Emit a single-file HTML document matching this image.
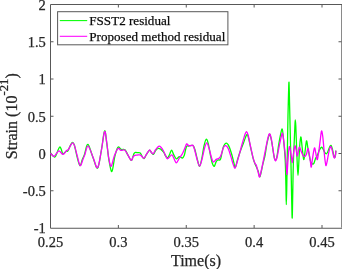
<!DOCTYPE html><html><head><meta charset="utf-8"><style>html,body{margin:0;padding:0;background:#fff}body{width:342px;height:269px;overflow:hidden;font-family:"Liberation Serif",serif}</style></head><body><svg width="342" height="269" viewBox="0 0 342 269" style="display:block;will-change:transform;opacity:0.999">
<rect width="342" height="269" fill="#fff"/>
<g stroke="#585858" stroke-width="1" fill="none">
<path d="M342.0,4.50H50.5V228.25H342.0"/>
<path d="M341.5,5.00V227.75" stroke="#8a8a8a"/>
<path d="M118.37,228.0v-3M118.37,4.5v3"/>
<path d="M186.25,228.0v-3M186.25,4.5v3"/>
<path d="M254.13,228.0v-3M254.13,4.5v3"/>
<path d="M322.00,228.0v-3M322.00,4.5v3"/>
<path d="M50.5,190.75h3M341.5,190.75h-3"/>
<path d="M341.5,153.50h-3"/>
<path d="M50.5,116.25h3M341.5,116.25h-3"/>
<path d="M50.5,79.00h3M341.5,79.00h-3"/>
<path d="M50.5,41.75h3M341.5,41.75h-3"/>
</g>
<path d="M50.50,152.80C51.22,153.52 53.58,157.45 54.80,157.10C56.02,156.75 56.95,152.42 57.80,150.70C58.65,148.98 59.28,146.90 59.90,146.80C60.52,146.70 60.98,148.93 61.50,150.10C62.02,151.27 62.18,153.65 63.00,153.80C63.82,153.95 65.58,151.48 66.40,151.00C67.22,150.52 67.18,151.93 67.90,150.90C68.62,149.87 69.92,146.22 70.70,144.80C71.48,143.38 71.98,142.33 72.60,142.40C73.22,142.47 73.65,142.78 74.40,145.20C75.15,147.62 76.18,153.50 77.10,156.90C78.02,160.30 79.02,165.20 79.90,165.60C80.78,166.00 81.63,161.17 82.40,159.30C83.17,157.43 83.58,156.88 84.50,154.40C85.42,151.92 86.52,143.98 87.90,144.40C89.28,144.82 91.18,152.95 92.80,156.90C94.42,160.85 96.17,169.25 97.60,168.10C99.03,166.95 100.23,156.20 101.40,150.00C102.57,143.80 103.70,131.98 104.60,130.90C105.50,129.82 106.08,138.70 106.80,143.50C107.52,148.30 108.05,155.03 108.90,159.70C109.75,164.37 110.90,172.12 111.90,171.50C112.90,170.88 113.88,160.05 114.90,156.00C115.92,151.95 116.95,148.30 118.00,147.20C119.05,146.10 120.03,148.97 121.20,149.40C122.37,149.83 123.97,149.02 125.00,149.80C126.03,150.58 126.37,152.35 127.40,154.10C128.43,155.85 130.28,159.87 131.20,160.30C132.12,160.73 132.42,157.85 132.90,156.70C133.38,155.55 133.65,154.12 134.10,153.40C134.55,152.68 134.98,152.52 135.60,152.40C136.22,152.28 137.02,152.60 137.80,152.70C138.58,152.80 139.63,152.47 140.30,153.00C140.97,153.53 141.18,154.97 141.80,155.90C142.42,156.83 143.23,158.83 144.00,158.60C144.77,158.37 145.48,155.88 146.40,154.50C147.32,153.12 148.65,150.62 149.50,150.30C150.35,149.98 150.85,151.92 151.50,152.60C152.15,153.28 152.72,154.73 153.40,154.40C154.08,154.07 154.82,151.58 155.60,150.60C156.38,149.62 157.27,148.75 158.10,148.50C158.93,148.25 159.68,148.50 160.60,149.10C161.52,149.70 162.73,150.92 163.60,152.10C164.47,153.28 165.10,155.25 165.80,156.20C166.50,157.15 167.13,158.17 167.80,157.80C168.47,157.43 169.17,155.27 169.80,154.00C170.43,152.73 170.93,150.05 171.60,150.20C172.27,150.35 173.02,153.47 173.80,154.90C174.58,156.33 175.37,158.50 176.30,158.80C177.23,159.10 178.38,156.83 179.40,156.70C180.42,156.57 181.58,158.23 182.40,158.00C183.22,157.77 183.78,156.63 184.30,155.30C184.82,153.97 185.10,151.50 185.50,150.00C185.90,148.50 186.18,146.97 186.70,146.30C187.22,145.63 187.57,146.13 188.60,146.00C189.63,145.87 191.83,144.83 192.90,145.50C193.97,146.17 194.25,147.62 195.00,150.00C195.75,152.38 196.63,157.08 197.40,159.80C198.17,162.52 198.87,166.50 199.60,166.30C200.33,166.10 201.08,161.93 201.80,158.60C202.52,155.27 203.17,149.53 203.90,146.30C204.63,143.07 205.47,139.62 206.20,139.20C206.93,138.78 207.57,141.00 208.30,143.80C209.03,146.60 209.92,152.72 210.60,156.00C211.28,159.28 211.78,161.78 212.40,163.50C213.02,165.22 213.67,166.62 214.30,166.30C214.93,165.98 215.58,162.65 216.20,161.60C216.82,160.55 217.32,160.32 218.00,160.00C218.68,159.68 219.72,160.53 220.30,159.70C220.88,158.87 220.97,157.18 221.50,155.00C222.03,152.82 222.70,148.57 223.50,146.60C224.30,144.63 225.37,143.20 226.30,143.20C227.23,143.20 228.17,144.63 229.10,146.60C230.03,148.57 231.12,152.35 231.90,155.00C232.68,157.65 233.23,160.40 233.80,162.50C234.37,164.60 234.68,168.07 235.30,167.60C235.92,167.13 236.67,162.42 237.50,159.70C238.33,156.98 239.35,153.95 240.30,151.30C241.25,148.65 242.32,146.15 243.20,143.80C244.08,141.45 244.92,138.77 245.60,137.20C246.28,135.63 246.77,134.08 247.30,134.40C247.83,134.72 248.25,136.92 248.80,139.10C249.35,141.28 249.82,144.07 250.60,147.50C251.38,150.93 252.72,156.88 253.50,159.70C254.28,162.52 254.53,162.52 255.30,164.40C256.07,166.28 257.32,168.98 258.10,171.00C258.88,173.02 259.22,177.60 260.00,176.50C260.78,175.40 261.95,167.98 262.80,164.40C263.65,160.82 264.42,158.43 265.10,155.00C265.78,151.57 266.18,147.23 266.90,143.80C267.62,140.37 268.77,135.50 269.40,134.40C270.03,133.30 270.23,135.48 270.70,137.20C271.17,138.92 271.63,141.42 272.20,144.70C272.77,147.98 273.55,154.33 274.10,156.90C274.65,159.47 275.03,160.10 275.50,160.10C275.97,160.10 276.37,159.47 276.90,156.90C277.43,154.33 278.10,148.35 278.70,144.70C279.30,141.05 279.92,137.62 280.50,135.00C281.08,132.38 281.68,128.17 282.20,129.00C282.72,129.83 283.10,134.83 283.60,140.00C284.10,145.17 284.82,152.50 285.20,160.00C285.58,167.50 285.72,177.55 285.90,185.00C286.08,192.45 286.15,204.70 286.30,204.70C286.45,204.70 286.62,194.12 286.80,185.00C286.98,175.88 287.20,161.67 287.40,150.00C287.60,138.33 287.82,124.17 288.00,115.00C288.18,105.83 288.33,100.43 288.50,95.00C288.67,89.57 288.82,80.73 289.00,82.40C289.18,84.07 289.37,95.40 289.60,105.00C289.83,114.60 290.15,129.17 290.40,140.00C290.65,150.83 290.88,160.00 291.10,170.00C291.32,180.00 291.52,192.00 291.70,200.00C291.88,208.00 292.03,218.67 292.20,218.00C292.37,217.33 292.55,203.50 292.70,196.00C292.85,188.50 292.95,179.83 293.10,173.00C293.25,166.17 293.40,160.50 293.60,155.00C293.80,149.50 294.08,144.83 294.30,140.00C294.52,135.17 294.73,129.33 294.90,126.00C295.07,122.67 295.15,120.00 295.30,120.00C295.45,120.00 295.60,121.83 295.80,126.00C296.00,130.17 296.25,138.50 296.50,145.00C296.75,151.50 297.05,159.95 297.30,165.00C297.55,170.05 297.77,175.30 298.00,175.30C298.23,175.30 298.43,169.72 298.70,165.00C298.97,160.28 299.25,151.70 299.60,147.00C299.95,142.30 300.40,136.97 300.80,136.80C301.20,136.63 301.63,142.97 302.00,146.00C302.37,149.03 302.68,152.75 303.00,155.00C303.32,157.25 303.57,160.00 303.90,159.50C304.23,159.00 304.57,155.10 305.00,152.00C305.43,148.90 306.03,141.65 306.50,140.90C306.97,140.15 307.35,145.15 307.80,147.50C308.25,149.85 308.72,152.62 309.20,155.00C309.68,157.38 310.18,160.33 310.70,161.80C311.22,163.27 311.77,163.55 312.30,163.80C312.83,164.05 313.37,164.18 313.90,163.30C314.43,162.42 315.07,159.55 315.50,158.50C315.93,157.45 316.15,157.62 316.50,157.00C316.85,156.38 317.15,155.87 317.60,154.80C318.05,153.73 318.68,151.73 319.20,150.60C319.72,149.47 320.23,148.55 320.70,148.00C321.17,147.45 321.55,147.03 322.00,147.30C322.45,147.57 322.92,148.70 323.40,149.60C323.88,150.50 324.43,152.00 324.90,152.70C325.37,153.40 325.75,153.88 326.20,153.80C326.65,153.72 327.10,153.17 327.60,152.20C328.10,151.23 328.63,149.13 329.20,148.00C329.77,146.87 330.45,145.13 331.00,145.40C331.55,145.67 332.02,147.85 332.50,149.60C332.98,151.35 333.50,154.58 333.90,155.90C334.30,157.22 334.63,157.68 334.90,157.50C335.17,157.32 335.33,155.95 335.50,154.80C335.67,153.65 335.83,151.30 335.90,150.60" fill="none" stroke="#00ff00" stroke-width="1.3" stroke-linejoin="round"/>
<path d="M50.50,153.20C51.10,153.72 52.72,156.68 54.10,156.30C55.48,155.92 57.32,151.22 58.80,150.90C60.28,150.58 61.73,154.43 63.00,154.40C64.27,154.37 65.52,151.48 66.40,150.70C67.28,149.92 67.58,150.62 68.30,149.70C69.02,148.78 69.98,146.33 70.70,145.20C71.42,144.07 71.98,142.87 72.60,142.90C73.22,142.93 73.58,143.07 74.40,145.40C75.22,147.73 76.53,153.53 77.50,156.90C78.47,160.27 79.28,165.20 80.20,165.60C81.12,166.00 82.22,161.17 83.00,159.30C83.78,157.43 84.05,156.62 84.90,154.40C85.75,152.18 86.77,145.58 88.10,146.00C89.43,146.42 91.32,153.30 92.90,156.90C94.48,160.50 96.18,168.70 97.60,167.60C99.02,166.50 100.23,156.28 101.40,150.30C102.57,144.32 103.70,132.93 104.60,131.70C105.50,130.47 106.12,138.55 106.80,142.90C107.48,147.25 107.98,153.90 108.70,157.80C109.42,161.70 110.17,166.60 111.10,166.30C112.03,166.00 113.15,158.97 114.30,156.00C115.45,153.03 116.90,149.45 118.00,148.50C119.10,147.55 119.80,150.05 120.90,150.30C122.00,150.55 123.52,149.37 124.60,150.00C125.68,150.63 126.32,152.40 127.40,154.10C128.48,155.80 130.13,159.77 131.10,160.20C132.07,160.63 132.58,157.50 133.20,156.70C133.82,155.90 134.13,155.67 134.80,155.40C135.47,155.13 136.33,155.18 137.20,155.10C138.07,155.02 139.18,154.63 140.00,154.90C140.82,155.17 141.43,156.13 142.10,156.70C142.77,157.27 143.28,158.70 144.00,158.30C144.72,157.90 145.48,155.68 146.40,154.30C147.32,152.92 148.68,150.35 149.50,150.00C150.32,149.65 150.68,151.58 151.30,152.20C151.92,152.82 152.48,154.12 153.20,153.70C153.92,153.28 154.68,150.93 155.60,149.70C156.52,148.47 157.77,146.67 158.70,146.30C159.63,145.93 160.38,146.68 161.20,147.50C162.02,148.32 162.78,149.67 163.60,151.20C164.42,152.73 165.42,155.45 166.10,156.70C166.78,157.95 166.78,159.00 167.70,158.70C168.62,158.40 170.63,155.12 171.60,154.90C172.57,154.68 172.72,156.07 173.50,157.40C174.28,158.73 175.32,162.80 176.30,162.90C177.28,163.00 178.38,159.53 179.40,158.00C180.42,156.47 181.48,155.35 182.40,153.70C183.32,152.05 184.18,149.73 184.90,148.10C185.62,146.47 186.08,144.32 186.70,143.90C187.32,143.48 187.92,145.30 188.60,145.60C189.28,145.90 190.08,145.75 190.80,145.70C191.52,145.65 192.25,144.58 192.90,145.30C193.55,146.02 193.98,147.58 194.70,150.00C195.42,152.42 196.38,157.10 197.20,159.80C198.02,162.50 198.78,166.37 199.60,166.20C200.42,166.03 201.25,161.92 202.10,158.80C202.95,155.68 203.92,150.15 204.70,147.50C205.48,144.85 206.07,142.73 206.80,142.90C207.53,143.07 208.32,146.02 209.10,148.50C209.88,150.98 210.78,155.55 211.50,157.80C212.22,160.05 212.62,161.73 213.40,162.00C214.18,162.27 215.27,160.03 216.20,159.40C217.13,158.77 218.22,158.85 219.00,158.20C219.78,157.55 220.15,157.28 220.90,155.50C221.65,153.72 222.70,149.13 223.50,147.50C224.30,145.87 224.92,145.53 225.70,145.70C226.48,145.87 227.32,146.63 228.20,148.50C229.08,150.37 230.17,154.25 231.00,156.90C231.83,159.55 232.52,162.53 233.20,164.40C233.88,166.27 234.47,168.42 235.10,168.10C235.73,167.78 236.28,164.83 237.00,162.50C237.72,160.17 238.53,157.22 239.40,154.10C240.27,150.98 241.27,147.08 242.20,143.80C243.13,140.52 244.28,136.43 245.00,134.40C245.72,132.37 245.97,131.43 246.50,131.60C247.03,131.77 247.52,132.90 248.20,135.40C248.88,137.90 249.78,142.87 250.60,146.60C251.42,150.33 252.37,154.98 253.10,157.80C253.83,160.62 254.47,162.25 255.00,163.50C255.53,164.75 255.78,163.88 256.30,165.30C256.82,166.72 257.55,170.05 258.10,172.00C258.65,173.95 259.08,177.17 259.60,177.00C260.12,176.83 260.57,173.75 261.20,171.00C261.83,168.25 262.52,164.88 263.40,160.50C264.28,156.12 265.67,148.73 266.50,144.70C267.33,140.67 267.87,138.10 268.40,136.30C268.93,134.50 269.23,133.58 269.70,133.90C270.17,134.22 270.63,135.47 271.20,138.20C271.77,140.93 272.53,146.87 273.10,150.30C273.67,153.73 274.17,157.05 274.60,158.80C275.03,160.55 275.28,161.10 275.70,160.80C276.12,160.50 276.47,159.68 277.10,157.00C277.73,154.32 278.78,148.18 279.50,144.70C280.22,141.22 280.92,137.98 281.40,136.10C281.88,134.22 282.03,132.78 282.40,133.40C282.77,134.02 283.15,136.48 283.60,139.80C284.05,143.12 284.65,148.93 285.10,153.30C285.55,157.67 285.98,162.47 286.30,166.00C286.62,169.53 286.75,175.00 287.00,174.50C287.25,174.00 287.52,166.93 287.80,163.00C288.08,159.07 288.43,153.63 288.70,150.90C288.97,148.17 289.13,146.80 289.40,146.60C289.67,146.40 289.93,147.75 290.30,149.70C290.67,151.65 291.27,156.17 291.60,158.30C291.93,160.43 292.02,163.05 292.30,162.50C292.58,161.95 292.87,157.75 293.30,155.00C293.73,152.25 294.43,146.88 294.90,146.00C295.37,145.12 295.70,147.98 296.10,149.70C296.50,151.42 296.88,156.30 297.30,156.30C297.72,156.30 298.22,151.22 298.60,149.70C298.98,148.18 299.20,147.00 299.60,147.20C300.00,147.40 300.45,149.57 301.00,150.90C301.55,152.23 302.32,154.25 302.90,155.20C303.48,156.15 303.93,156.70 304.50,156.60C305.07,156.50 305.73,155.95 306.30,154.60C306.87,153.25 307.42,148.63 307.90,148.50C308.38,148.37 308.77,151.47 309.20,153.80C309.63,156.13 310.15,160.30 310.50,162.50C310.85,164.70 310.95,167.75 311.30,167.00C311.65,166.25 312.08,161.17 312.60,158.00C313.12,154.83 313.88,148.88 314.40,148.00C314.92,147.12 315.25,150.77 315.70,152.70C316.15,154.63 316.70,159.07 317.10,159.60C317.50,160.13 317.75,157.75 318.10,155.90C318.45,154.05 318.85,151.07 319.20,148.50C319.55,145.93 319.82,143.42 320.20,140.50C320.58,137.58 321.08,131.75 321.50,131.00C321.92,130.25 322.35,133.62 322.70,136.00C323.05,138.38 323.28,141.88 323.60,145.30C323.92,148.72 324.30,153.55 324.60,156.50C324.90,159.45 325.15,161.48 325.40,163.00C325.65,164.52 325.80,165.93 326.10,165.60C326.40,165.27 326.88,162.52 327.20,161.00C327.52,159.48 327.67,158.23 328.00,156.50C328.33,154.77 328.75,152.28 329.20,150.60C329.65,148.92 330.18,146.40 330.70,146.40C331.22,146.40 331.82,148.93 332.30,150.60C332.78,152.27 333.22,155.17 333.60,156.40C333.98,157.63 334.28,158.27 334.60,158.00C334.92,157.73 335.28,156.03 335.50,154.80C335.72,153.57 335.83,151.30 335.90,150.60" fill="none" stroke="#ff00ff" stroke-width="1.3" stroke-linejoin="round"/>
<g font-family="Liberation Serif, serif" font-size="14.5px" fill="#262626" stroke="#262626" stroke-width="0.25">
<text x="50.50" y="246.7" text-anchor="middle">0.25</text>
<text x="118.37" y="246.7" text-anchor="middle">0.3</text>
<text x="186.25" y="246.7" text-anchor="middle">0.35</text>
<text x="254.13" y="246.7" text-anchor="middle">0.4</text>
<text x="322.00" y="246.7" text-anchor="middle">0.45</text>
<text x="45.8" y="233.30" text-anchor="end">-1</text>
<text x="45.8" y="196.05" text-anchor="end">-0.5</text>
<text x="45.8" y="158.80" text-anchor="end">0</text>
<text x="45.8" y="121.55" text-anchor="end">0.5</text>
<text x="45.8" y="84.30" text-anchor="end">1</text>
<text x="45.8" y="47.05" text-anchor="end">1.5</text>
<text x="45.8" y="9.80" text-anchor="end">2</text>
<text x="196" y="265.6" text-anchor="middle" font-size="16px">Time(s)</text>
<text transform="translate(17.1,116.2) rotate(-90)" text-anchor="middle" font-size="16px">Strain (10<tspan font-size="12.8px" dy="-9.2">-21</tspan><tspan dy="9.2">)</tspan></text>
<rect x="57.6" y="11.7" width="170.3" height="33.1" fill="#fff" stroke="#585858" stroke-width="1"/>
<path d="M59.8,20.6H87.2" stroke="#00ff00" stroke-width="1.05"/>
<path d="M59.8,36.3H87.2" stroke="#ff00ff" stroke-width="1.05"/>
<text x="89.3" y="25.1" font-size="13.1px" fill="#000">FSST2 residual</text>
<text x="89.3" y="40.7" font-size="13.1px" fill="#000">Proposed method residual</text>
</g>
</svg></body></html>
